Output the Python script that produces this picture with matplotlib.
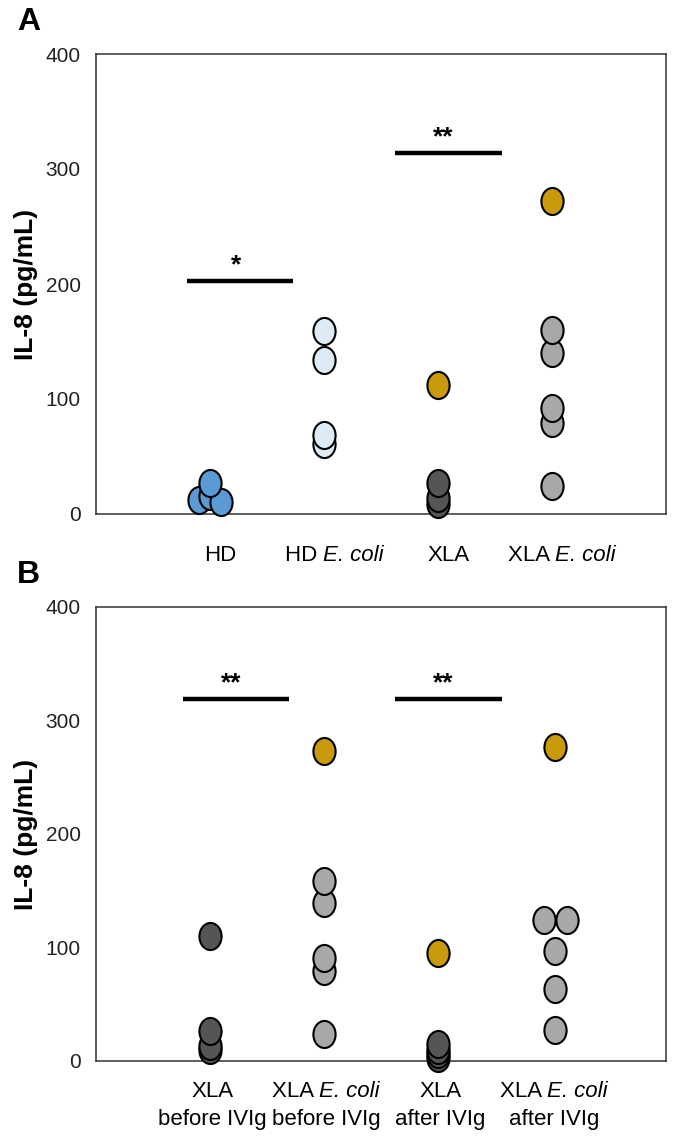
import numpy as np
import matplotlib
matplotlib.use('Agg')
import matplotlib.pyplot as plt
from matplotlib.path import Path
from matplotlib.transforms import Affine2D
from matplotlib.offsetbox import TextArea, HPacker, VPacker, AnnotationBbox

plt.rcParams['font.family'] = ['Liberation Sans', 'DejaVu Sans']

# panel A data (IL-8 pg/mL)
# each label: list of lines, each line a list of (text, italic)
labels_a = [
    [[('HD', False)]],
    [[('HD ', False), ('E. coli', True)]],
    [[('XLA', False)]],
    [[('XLA ', False), ('E. coli', True)]],
]
hd = [12, 16, 10, 27]
hd_ecoli = [61, 69, 134, 159]
xla_a = [9, 14, 27]
xla_a_gold = [112]
xla_ecoli_a = [24, 79, 92, 140, 160]
xla_ecoli_a_gold = [272]

# panel B data
labels_b = [
    [[('XLA', False)], [('before IVIg', False)]],
    [[('XLA ', False), ('E. coli', True)], [('before IVIg', False)]],
    [[('XLA', False)], [('after IVIg', False)]],
    [[('XLA ', False), ('E. coli', True)], [('after IVIg', False)]],
]
xla_before = [10, 13, 26, 110]
xla_ecoli_before = [24, 79, 91, 139, 159]
xla_ecoli_before_gold = [273]
xla_after = [3, 6, 10, 15]
xla_after_gold = [95]
xla_ecoli_after = [27, 63, 97, 124, 124]
xla_ecoli_after_gold = [277]

# significance bars: (start, end, height, stars)
sig_a = [(0.8, 1.73, 203, '*'), (2.62, 3.56, 314, '**')]
sig_b = [(0.76, 1.69, 319, '**'), (2.62, 3.56, 319, '**')]

# horizontal spread for overlapping points
hd_dx = [-0.1, 0.0, 0.1, 0.0]
ecoli_after_dx = [0, 0, 0, -0.1, 0.1]

c_blue = '#5B9BD5'
c_light = '#DEEBF7'
c_dark = '#555555'
c_gray = '#A8A8A8'
c_gold = '#C99A0C'

# the circles in the picture are a bit taller than wide
oval = Path.unit_circle().transformed(Affine2D().scale(1, 1.22))


def dots(ax, x, vals, color, dx=None):
    if dx is None:
        dx = [0] * len(vals)
    xs = [x + d for d in dx]
    ax.plot(xs, vals, linestyle='none', marker=oval, markersize=19.5,
            markerfacecolor=color, markeredgecolor='black',
            markeredgewidth=1.5, clip_on=False, zorder=3)


def style_axes(ax, letter):
    ax.set_xlim(0, 5)
    ax.set_ylim(0, 400)
    ax.set_yticks([0, 100, 200, 300, 400])
    ax.set_xticks([])
    ax.tick_params(axis='y', length=0, pad=11, labelsize=15, labelcolor='#222222')
    for s in ax.spines.values():
        s.set_color('#333333')
        s.set_linewidth(1.1)
    ax.text(-0.123, 0.5, 'IL-8 (pg/mL)', transform=ax.transAxes, rotation=90,
            ha='center', va='center', fontsize=19, fontweight='bold')
    ax.text(-0.118, 1.07, letter, transform=ax.transAxes, ha='center',
            va='center', fontsize=23, fontweight='bold')


def sig(ax, bars):
    for x0, x1, y, stars in bars:
        ax.plot([x0, x1], [y, y], color='black', linewidth=3.2, solid_capstyle='butt')
        ax.text((x0 + x1) / 2 - 0.04, y + 3, stars, ha='center', va='bottom',
                fontsize=19, fontweight='bold')


def cat_label(ax, x, y, lines):
    rows = []
    for parts in lines:
        pieces = [TextArea(t, textprops=dict(fontsize=16, style='italic' if it else 'normal'))
                  for t, it in parts]
        rows.append(HPacker(children=pieces, pad=0, sep=0, align='baseline'))
    box = VPacker(children=rows, pad=0, sep=5, align='center')
    ab = AnnotationBbox(box, (x, y), xycoords='data', frameon=False,
                        box_alignment=(0.5, 0.5), annotation_clip=False)
    ax.add_artist(ab)


fig = plt.figure(figsize=(6.75, 11.37), dpi=100)
ax_a = fig.add_axes([96 / 675, 1 - 514 / 1137, 570 / 675, 460 / 1137])
ax_b = fig.add_axes([96 / 675, 1 - 1061 / 1137, 570 / 675, 454 / 1137])

# panel A
style_axes(ax_a, 'A')
dots(ax_a, 1, hd, c_blue, hd_dx)
dots(ax_a, 2, hd_ecoli, c_light)
dots(ax_a, 3, xla_a, c_dark)
dots(ax_a, 3, xla_a_gold, c_gold)
dots(ax_a, 4, xla_ecoli_a, c_gray)
dots(ax_a, 4, xla_ecoli_a_gold, c_gold)
sig(ax_a, sig_a)
for i, lab in enumerate(labels_a):
    cat_label(ax_a, i + 1.09, -36, lab)

# panel B
style_axes(ax_b, 'B')
dots(ax_b, 1, xla_before, c_dark)
dots(ax_b, 2, xla_ecoli_before, c_gray)
dots(ax_b, 2, xla_ecoli_before_gold, c_gold)
dots(ax_b, 3, xla_after, c_dark)
dots(ax_b, 3, xla_after_gold, c_gold)
dots(ax_b, 4.03, xla_ecoli_after, c_gray, ecoli_after_dx)
dots(ax_b, 4.03, xla_ecoli_after_gold, c_gold)
sig(ax_b, sig_b)
for i, lab in enumerate(labels_b):
    cat_label(ax_b, i + 1.02, -39, lab)

fig.savefig('out.png', dpi=100)
